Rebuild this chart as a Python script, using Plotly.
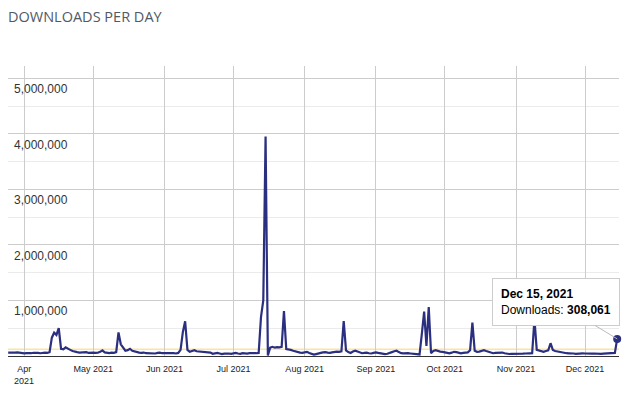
import plotly.graph_objects as go
import pandas as pd

# ---------------- data ----------------
start_date = "2021-03-25"
mar_tail = [62000, 58000, 52000, 60000, 65000, 57000, 50000]
apr = [48000, 52000, 45000, 50000, 58000, 62000, 55000, 50000, 57000, 60000,
       55000, 70000, 330000, 420000, 380000, 500000, 130000, 120000, 155000, 125000,
       110000, 90000, 75000, 70000, 62000, 65000, 80000, 70000, 55000, 60000]
may = [62000, 55000, 58000, 75000, 100000, 65000, 55000, 52000, 60000, 58000,
       70000, 425000, 210000, 145000, 95000, 105000, 130000, 95000, 80000, 75000,
       60000, 55000, 62000, 50000, 48000, 58000, 52000, 45000, 55000, 60000, 50000]
jun = [52000, 48000, 55000, 60000, 50000, 45000, 55000, 110000, 430000, 625000,
       110000, 75000, 90000, 105000, 85000, 80000, 70000, 65000, 72000, 60000,
       62000, 40000, 50000, 55000, 45000, 35000, 42000, 50000, 45000, 40000]
jul = [48000, 55000, 45000, 40000, 50000, 45000, 42000, 52000, 48000, 45000,
       50000, 55000, 700000, 1000000, 3950000, 10000, 150000, 165000, 150000, 160000,
       155000, 165000, 810000, 125000, 120000, 110000, 95000, 80000, 70000, 60000, 55000]
aug = [60000, 75000, 55000, 40000, 25000, 35000, 50000, 55000, 65000, 70000,
       60000, 55000, 65000, 75000, 80000, 75000, 85000, 630000, 100000, 70000,
       55000, 80000, 95000, 80000, 60000, 50000, 55000, 60000, 50000, 45000, 55000]
sep = [65000, 55000, 45000, 38000, 35000, 40000, 50000, 70000, 85000, 95000,
       70000, 50000, 48000, 52000, 50000, 45000, 40000, 35000, 30000, 28000,
       400000, 800000, 180000, 880000, 50000, 90000, 105000, 90000, 80000, 75000]
oct_ = [65000, 55000, 48000, 60000, 75000, 70000, 55000, 48000, 55000, 60000,
        65000, 105000, 600000, 95000, 75000, 80000, 95000, 105000, 90000, 75000,
        60000, 50000, 55000, 60000, 58000, 62000, 50000, 40000, 36000, 40000, 38000]
nov = [36000, 40000, 38000, 42000, 45000, 40000, 48000, 50000, 660000, 110000,
       100000, 85000, 75000, 90000, 100000, 230000, 110000, 90000, 80000, 70000,
       60000, 55000, 50000, 48000, 52000, 45000, 40000, 45000, 50000, 48000]
dec = [45000, 40000, 38000, 42000, 45000, 40000, 35000, 38000, 42000, 45000,
       40000, 38000, 50000, 55000, 308061]

values = mar_tail + apr + may + jun + jul + aug + sep + oct_ + nov + dec
dates = pd.date_range(start_date, periods=len(values), freq="D")

month_ticks = ["2021-04-01", "2021-05-01", "2021-06-01", "2021-07-01", "2021-08-01",
               "2021-09-01", "2021-10-01", "2021-11-01", "2021-12-01"]
month_labels = ["Apr", "May 2021", "Jun 2021", "Jul 2021", "Aug 2021",
                "Sep 2021", "Oct 2021", "Nov 2021", "Dec 2021"]
first_year_label = "2021"
y_ticks = [1000000, 2000000, 3000000, 4000000, 5000000]
y_labels = ["1,000,000", "2,000,000", "3,000,000", "4,000,000", "5,000,000"]
y_minor = [500000, 1500000, 2500000, 3500000, 4500000]
avg_value = 120000

LINE = "#2b2f80"
FONT = "Arial, Liberation Sans, sans-serif"

# ---------------- figure ----------------
fig = go.Figure()
fig.add_trace(go.Scatter(x=dates, y=values, mode="lines",
                         line=dict(color=LINE, width=2.2), hoverinfo="skip"))
fig.add_trace(go.Scatter(x=[dates[-1]], y=[values[-1]], mode="markers",
                         marker=dict(color=LINE, size=8), hoverinfo="skip",
                         cliponaxis=False))

fig.add_shape(type="line", xref="paper", x0=0, x1=1, yref="y", y0=avg_value, y1=avg_value,
              line=dict(color="#fbe3a0", width=1.5), layer="below")

for v, t in zip(y_ticks, y_labels):
    fig.add_annotation(xref="paper", x=0.0065, yref="y", y=v, text=t, showarrow=False,
                       xanchor="left", yanchor="top", yshift=-2,
                       font=dict(family=FONT, size=12, color="#333"))

# second line of the first month label
fig.add_annotation(x=month_ticks[0], xref="x", yref="paper", y=0, text=first_year_label,
                   showarrow=False, xanchor="center", yanchor="middle", yshift=-25,
                   font=dict(family=FONT, size=9, color="#222"))

tip = f"<b>{dates[-1].strftime('%b')} {dates[-1].day}, {dates[-1].year}</b><br>Downloads: <b>{values[-1]:,}</b>"
fig.add_annotation(x=dates[-1], y=values[-1], text=tip, showarrow=True,
                   ax=-61, ay=-37, arrowhead=0, arrowwidth=1, arrowcolor="#bbbbbb",
                   align="left", bgcolor="white", bordercolor="#cccccc", borderwidth=1,
                   borderpad=8, font=dict(family=FONT, size=12, color="#000"))

fig.update_layout(
    width=628, height=396,
    margin=dict(l=8, r=9, t=66, b=40),
    paper_bgcolor="white", plot_bgcolor="white",
    showlegend=False,
    title=dict(text="DOWNLOADS PER DAY", x=8 / 628, xanchor="left", xref="container",
               y=1 - 17 / 396, yanchor="middle", yref="container",
               font=dict(family="Open Sans", size=14.5, color="#505a64")),
    xaxis=dict(type="date", range=["2021-03-24 22:00", "2021-12-15 19:00"],
               tickmode="array", tickvals=month_ticks, ticktext=month_labels,
               showgrid=True, gridcolor="#cccccc", gridwidth=1,
               showline=True, linecolor="#333333", linewidth=1, ticks="",
               ticklabelstandoff=4,
               tickfont=dict(family=FONT, size=9, color="#222"), zeroline=False,
               fixedrange=True),
    yaxis=dict(range=[0, 5220000], tickmode="array", tickvals=y_ticks,
               showticklabels=False, showgrid=True, gridcolor="#cccccc", gridwidth=1,
               zeroline=False, showline=False, ticks="",
               minor=dict(tickmode="array", tickvals=y_minor, showgrid=True,
                          gridcolor="#ebebeb", gridwidth=1),
               fixedrange=True),
)

fig.write_html("out.html", config={"displayModeBar": False, "staticPlot": True},
               post_script="document.body.style.margin='0';document.body.style.overflow='hidden';")
